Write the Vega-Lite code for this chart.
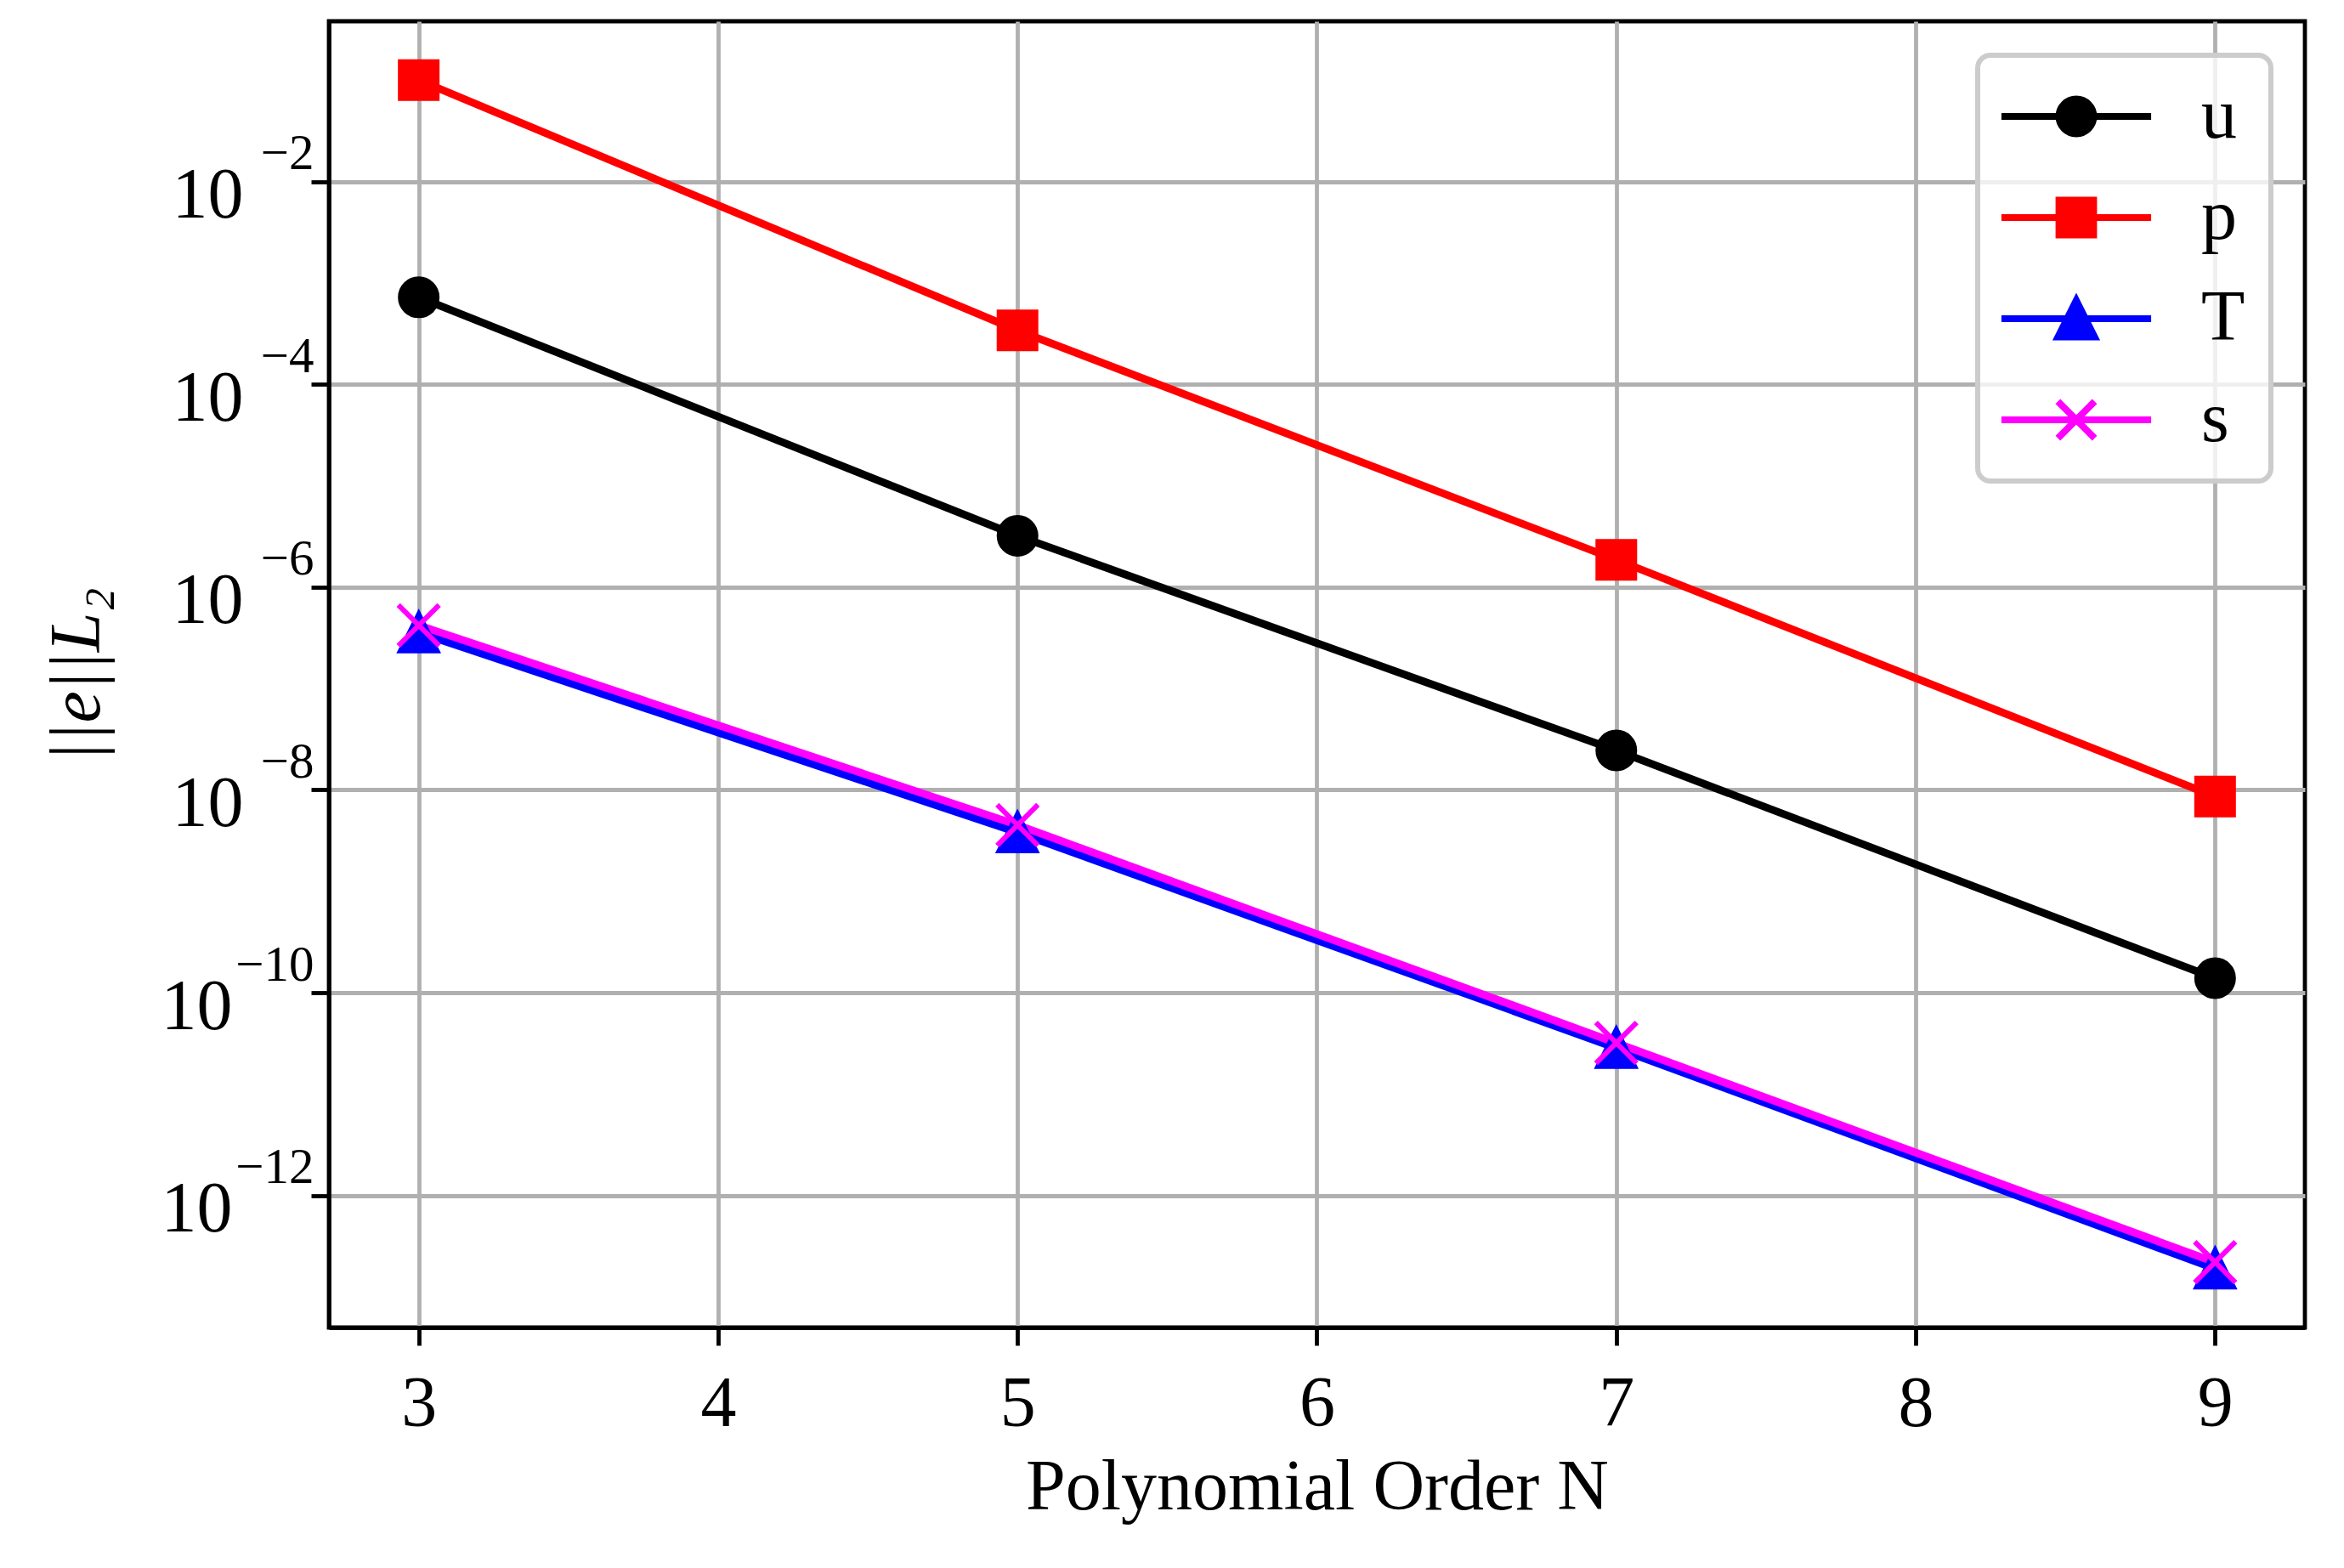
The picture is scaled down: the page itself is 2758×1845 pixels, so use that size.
{
  "$schema": "https://vega.github.io/schema/vega-lite/v6.json",
  "width": 2325,
  "height": 1537,
  "autosize": {"type": "none"},
  "padding": {"left": 387, "top": 25, "right": 46, "bottom": 283},
  "background": "white",
  "config": {
    "font": "Liberation Serif",
    "view": {"stroke": "#000000", "strokeWidth": 4.8},
    "axis": {
      "labelFont": "Liberation Serif",
      "labelFontSize": 84,
      "labelColor": "#000000",
      "titleFont": "Liberation Serif",
      "titleFontSize": 84,
      "titleColor": "#000000",
      "titleFontWeight": "normal",
      "domainColor": "#000000",
      "domainWidth": 4.8,
      "tickColor": "#000000",
      "tickWidth": 4.8,
      "tickSize": 21,
      "gridColor": "#b0b0b0",
      "gridWidth": 4.8,
      "gridOpacity": 1,
      "labelFlush": false,
      "labelOverlap": false
    }
  },
  "data": {
    "values": [
      {"N": 3, "series": "u", "err": 7.2e-4},
      {"N": 5, "series": "u", "err": 3.2e-6},
      {"N": 7, "series": "u", "err": 2.45e-8},
      {"N": 9, "series": "u", "err": 1.39e-10},
      {"N": 3, "series": "p", "err": 1.0e-1},
      {"N": 5, "series": "p", "err": 3.4e-4},
      {"N": 7, "series": "p", "err": 1.86e-6},
      {"N": 9, "series": "p", "err": 8.6e-9},
      {"N": 3, "series": "T", "err": 3.56e-7},
      {"N": 5, "series": "T", "err": 3.8e-9},
      {"N": 7, "series": "T", "err": 2.85e-11},
      {"N": 9, "series": "T", "err": 1.9e-13},
      {"N": 3, "series": "s", "err": 4.2e-7},
      {"N": 5, "series": "s", "err": 4.5e-9},
      {"N": 7, "series": "s", "err": 3.2e-11},
      {"N": 9, "series": "s", "err": 2.2e-13}
    ]
  },
  "encoding": {
    "x": {
      "field": "N",
      "type": "quantitative",
      "scale": {"domain": [2.7, 9.3], "nice": false, "zero": false},
      "axis": {
        "values": [3, 4, 5, 6, 7, 8, 9],
        "format": "d",
        "labelPadding": 28,
        "labelAngle": 0,
        "title": "Polynomial Order N",
        "titleX": 1162.5,
        "titleY": 188,
        "titleAlign": "center",
        "titleBaseline": "middle"
      }
    }
  },
  "resolve": {"axis": {"y": "independent"}},
  "layer": [
    {
      "mark": {"type": "line", "strokeWidth": 9},
      "encoding": {
        "y": {
          "field": "err",
          "type": "quantitative",
          "scale": {"type": "log", "domain": [5e-14, 0.38], "nice": false},
          "axis": {
            "orient": "left",
            "values": [0.01, 0.0001, 1e-6, 1e-8, 1e-10, 1e-12],
            "labelExpr": "datum.value > 1e-9 ? '10' : ''",
            "labelPadding": 80,
            "labelOffset": 17,
            "title": "||e||L₂",
            "titleFontStyle": "italic",
            "titleAngle": -90,
            "titleX": -296,
            "titleY": 768.5,
            "titleAlign": "center",
            "titleBaseline": "middle"
          }
        },
        "color": {
          "field": "series",
          "type": "nominal",
          "scale": {"domain": ["u", "p", "T", "s"], "range": ["#000000", "#ff0000", "#0000ff", "#ff00ff"]},
          "legend": {
            "title": null,
            "orient": "top-right",
            "offset": 40,
            "padding": 30,
            "fillColor": "rgba(255,255,255,0.8)",
            "strokeColor": "#cccccc",
            "cornerRadius": 15,
            "labelFont": "Liberation Serif",
            "labelFontSize": 84,
            "labelColor": "#000000",
            "symbolSize": 2304,
            "symbolStrokeWidth": 8,
            "symbolOffset": 44,
            "labelOffset": 105,
            "rowPadding": 35,
            "encode": {
              "legend": {
                "update": {
                  "strokeWidth": {"value": 6}
                }
              },
              "symbols": {
                "update": {
                  "shape": {"signal": "datum.value === 'u' ? 'M-3.67,0H3.67M0.85,0A0.85,0.85,0,1,1,-0.85,0A0.85,0.85,0,1,1,0.85,0Z' : datum.value === 'p' ? 'M-3.67,0H3.67M-0.85,-0.85H0.85V0.85H-0.85Z' : datum.value === 'T' ? 'M-3.67,0H3.67M0,-0.9L-0.9,0.9L0.9,0.9Z' : 'M-3.67,0H3.67M-0.9,-0.9L0.9,0.9M-0.9,0.9L0.9,-0.9'"},
                  "size": {"value": 2304},
                  "strokeWidth": {"value": 8},
                  "fill": {"scale": "color", "field": "value"},
                  "stroke": {"scale": "color", "field": "value"},
                  "opacity": {"value": 1}
                }
              }
            }
          }
        }
      }
    },
    {
      "transform": [{"filter": "datum.series !== 's'"}],
      "mark": {"type": "point", "filled": true, "opacity": 1, "size": 1849, "strokeWidth": 6},
      "encoding": {
        "y": {
          "field": "err",
          "type": "quantitative",
          "axis": {
            "orient": "left",
            "values": [0.01, 0.0001, 1e-6, 1e-8, 1e-10, 1e-12],
            "labelExpr": "['', '', '−2', '', '−4', '', '−6', '', '−8', '', '−10', '', '−12'][round(-log(datum.value) / LN10)]",
            "labelFontSize": 59,
            "labelAlign": "right",
            "labelPadding": 18,
            "labelOffset": -33,
            "domain": false,
            "ticks": false,
            "grid": false,
            "title": null
          }
        },
        "shape": {
          "field": "series",
          "type": "nominal",
          "scale": {"domain": ["u", "p", "T"], "range": ["M1,0A1,1,0,1,1,-1,0A1,1,0,1,1,1,0Z", "M-1,-1H1V1H-1Z", "M0,-1L-1,1L1,1Z"]},
          "legend": null
        },
        "fill": {
          "field": "series",
          "type": "nominal",
          "scale": {"domain": ["u", "p", "T"], "range": ["#000000", "#ff0000", "#0000ff"]},
          "legend": null
        },
        "stroke": {
          "field": "series",
          "type": "nominal",
          "scale": {"domain": ["u", "p", "T"], "range": ["#000000", "#ff0000", "#0000ff"]},
          "legend": null
        }
      }
    },
    {
      "transform": [{"filter": "datum.series === 's'"}],
      "mark": {"type": "point", "shape": "M-1,-1L1,1M-1,1L1,-1", "size": 2304, "filled": false, "stroke": "#ff00ff", "strokeWidth": 6, "opacity": 1},
      "encoding": {
        "y": {
          "field": "err",
          "type": "quantitative",
          "axis": {
            "orient": "left",
            "values": [1e-10, 1e-12],
            "labelExpr": "'10'",
            "labelPadding": 114,
            "labelOffset": 17,
            "domain": false,
            "ticks": false,
            "grid": false,
            "title": null
          }
        }
      }
    }
  ]
}
